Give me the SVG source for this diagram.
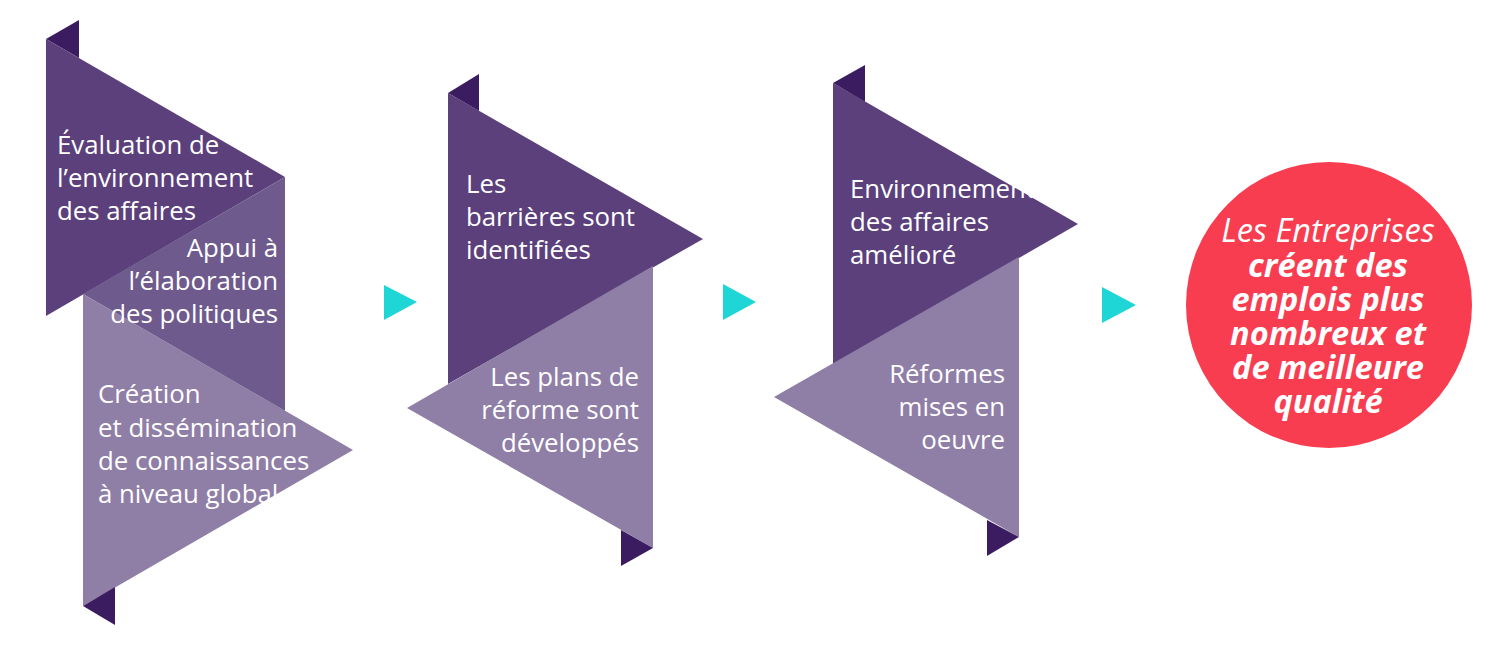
<svg xmlns="http://www.w3.org/2000/svg" width="1500" height="658" viewBox="0 0 1500 658">
<style>
.dark{fill:#5b407c}
.mid{fill:#6e5a8c}
.light{fill:#8f7ea6}
.fold{fill:#3c1c60}
.arrow{fill:#1fd6d6}
.t{font-family:"Open Sans","Noto Sans",sans-serif;font-size:25.8px;fill:#ffffff}
.r{text-anchor:end}
.c{font-family:"Open Sans","Noto Sans",sans-serif;font-size:32.5px;fill:#ffffff;font-style:italic;text-anchor:middle}
.l{font-weight:normal}
.b{font-weight:bold}
</style>
<rect width="1500" height="658" fill="#ffffff"/>
<g id="stage1">
<polygon class="fold" points="46,39 79,20 79,58"/>
<polygon class="dark" points="46,39 285,177 46,316"/>
<polygon class="mid" points="285,177 83,294 285,411"/>
<polygon class="light" points="83,294 353,450 83,606"/>
<polygon class="fold" points="83,606 115,625 115,587"/>
<text class="t" x="57" y="154">Évaluation de</text>
<text class="t" x="57" y="187">l’environnement</text>
<text class="t" x="57" y="220">des affaires</text>
<text class="t r" x="278" y="257">Appui à</text>
<text class="t r" x="278" y="290">l’élaboration</text>
<text class="t r" x="278" y="323">des politiques</text>
<text class="t" x="98" y="403">Création</text>
<text class="t" x="98" y="437">et dissémination</text>
<text class="t" x="98" y="470">de connaissances</text>
<text class="t" x="98" y="503">à niveau global</text>
</g>
<g id="stage2">
<polygon class="fold" points="448,93 479,74 479,111"/>
<polygon class="dark" points="448,93 703,239 448,384"/>
<polygon class="light" points="653,266 407,408 653,548"/>
<polygon class="fold" points="653,548 621,566 621,530"/>
<text class="t" x="466" y="193">Les</text>
<text class="t" x="466" y="226">barrières sont</text>
<text class="t" x="466" y="259">identifiées</text>
<text class="t r" x="639" y="386">Les plans de</text>
<text class="t r" x="639" y="419">réforme sont</text>
<text class="t r" x="639" y="452">développés</text>
</g>
<g id="stage3">
<polygon class="fold" points="833,83 865,65 865,102"/>
<polygon class="dark" points="833,83 1078,224 833,365"/>
<polygon class="light" points="1019,257 774,397 1019,537"/>
<polygon class="fold" points="1019,537 987,556 987,520"/>
<text class="t" x="850" y="198">Environnement</text>
<text class="t" x="850" y="231">des affaires</text>
<text class="t" x="850" y="264">amélioré</text>
<text class="t r" x="1005" y="383">Réformes</text>
<text class="t r" x="1005" y="416">mises en</text>
<text class="t r" x="1005" y="449">oeuvre</text>
</g>
<g id="outcome">
<circle cx="1329" cy="305" r="143" fill="#f83d50"/>
<text class="c l" x="1328" y="242">Les Entreprises</text>
<text class="c b" x="1328" y="277">créent des</text>
<text class="c b" x="1328" y="311">emplois plus</text>
<text class="c b" x="1328" y="345">nombreux et</text>
<text class="c b" x="1328" y="379">de meilleure</text>
<text class="c b" x="1328" y="413">qualité</text>
</g>
<g id="connectors">
<polygon class="arrow" points="384,285 417,302 384,320"/>
<polygon class="arrow" points="723,284 756,302 723,320"/>
<polygon class="arrow" points="1102,287 1136,305 1102,323"/>
</g>
</svg>
